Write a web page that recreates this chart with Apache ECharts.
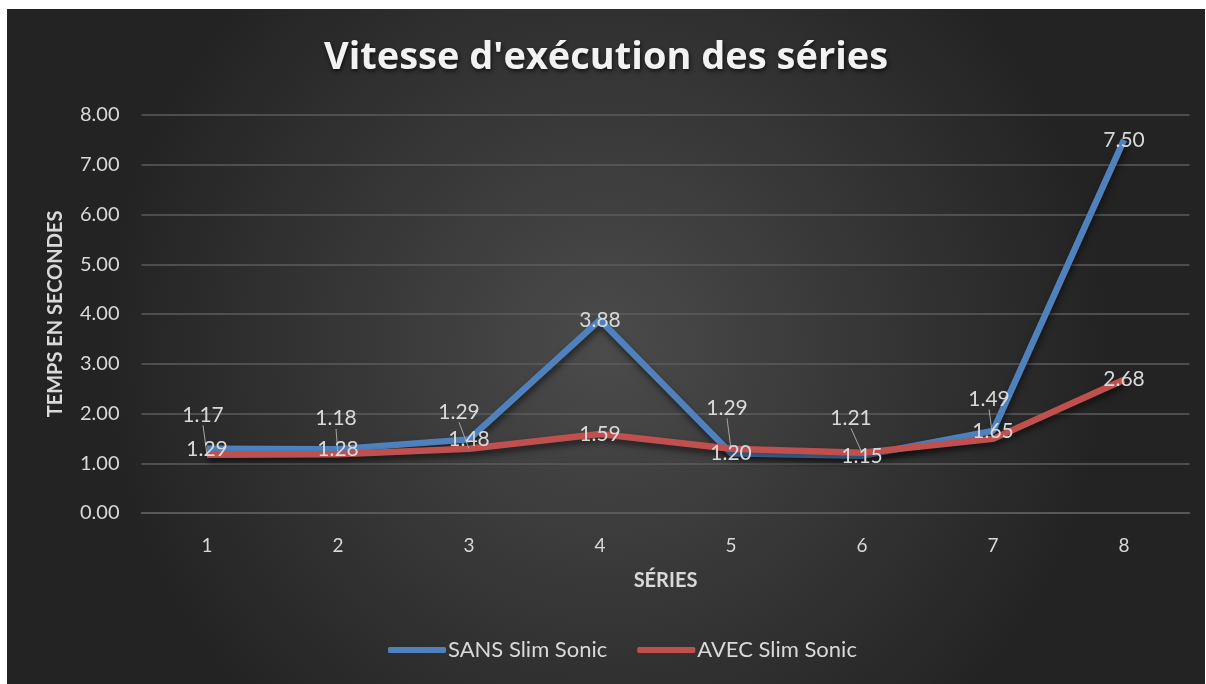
<!DOCTYPE html>
<html>
<head>
<meta charset="utf-8">
<script src="https://cdn.jsdelivr.net/npm/echarts@6/dist/echarts.min.js"></script>
<style>
  html, body { margin: 0; padding: 0; background: #fff; }
  #chart { position: absolute; left: 7px; top: 9px; width: 1198px; height: 675px; }
</style>
</head>
<body>
<div id="chart"></div>
<script>
// valeurs
const series_labels = ['1', '2', '3', '4', '5', '6', '7', '8'];
const sans_slim = [1.29, 1.28, 1.48, 3.88, 1.20, 1.15, 1.65, 7.50];
const avec_slim = [1.17, 1.18, 1.29, 1.59, 1.29, 1.21, 1.49, 2.68];
const yTicks = [0, 8, 1];

// décalage des étiquettes rouges (déplacées à la main dans l'original)
const avecShift = [[-4, -40], [-2, -36], [-10, -37], [0, 0], [-4, -41], [-11, -35], [-4, -40], [0, 0]];

const chart = echarts.init(document.getElementById('chart'));
const font = 'Lato, "Open Sans", sans-serif';
const txt = '#d9d9d9';
const BLUE = '#4f81bd', RED = '#c0504d';

const lineShadow = { shadowColor: 'rgba(0,0,0,0.55)', shadowBlur: 6, shadowOffsetY: 4, shadowOffsetX: 1 };
const lbl = { show: true, position: 'inside', color: txt, fontSize: 21, formatter: p => p.value.toFixed(2) };

// séries "lignes" puis séries "étiquettes" par-dessus
const lineSeries = (name, data, color, z) => ({
  name, type: 'line', data, color,
  symbol: 'none',
  lineStyle: Object.assign({ width: 6.5, color }, lineShadow),
  z
});
const labelSeries = (name, data, color, extra) => Object.assign({
  name, type: 'line', data, color,
  symbol: 'circle', symbolSize: 1,
  itemStyle: { color: 'rgba(0,0,0,0)', borderWidth: 0 },
  lineStyle: { width: 0, color: 'rgba(0,0,0,0)' },
  silent: true,
  label: lbl,
  z: 10
}, extra);

const option = {
  backgroundColor: {
    type: 'radial', x: 0.5, y: 0.5, r: 0.75,
    colorStops: [
      { offset: 0, color: '#4b4b4b' },
      { offset: 1, color: '#232323' }
    ]
  },
  textStyle: { fontFamily: font },
  title: {
    text: "Vitesse d'exécution des séries",
    left: 'center',
    top: 25,
    textStyle: {
      color: '#f2f2f2', fontSize: 38, fontWeight: 'bold', fontFamily: '"Open Sans", sans-serif',
      textShadowColor: 'rgba(0,0,0,0.7)', textShadowBlur: 4, textShadowOffsetX: 1, textShadowOffsetY: 2
    }
  },
  legend: {
    bottom: 18,
    left: 376,
    itemWidth: 58,
    itemHeight: 6,
    itemGap: 30,
    icon: 'roundRect',
    textStyle: { color: txt, fontSize: 22, padding: [0, 0, 0, -3] },
    data: ['SANS Slim Sonic', 'AVEC Slim Sonic']
  },
  grid: { left: 134.5, right: 15.5, top: 106, bottom: 171, containLabel: false },
  xAxis: {
    type: 'category',
    data: series_labels,
    boundaryGap: true,
    name: 'SÉRIES',
    nameLocation: 'middle',
    nameGap: 58,
    nameTextStyle: { color: txt, fontSize: 20, fontWeight: 'bold' },
    axisLine: { lineStyle: { color: '#5c5c5c', width: 1.5 } },
    axisTick: { show: false },
    axisLabel: { color: txt, fontSize: 19, margin: 23 }
  },
  yAxis: {
    type: 'value',
    min: yTicks[0], max: yTicks[1], interval: yTicks[2],
    name: 'TEMPS EN SECONDES',
    nameLocation: 'middle',
    nameGap: 76,
    nameRotate: 90,
    nameTextStyle: { color: txt, fontSize: 20, fontWeight: 'bold' },
    axisLine: { show: false },
    axisTick: { show: false },
    axisLabel: { color: txt, fontSize: 20, margin: 22, formatter: v => v.toFixed(2) },
    splitLine: { lineStyle: { color: '#5c5c5c', width: 1.5 } }
  },
  series: [
    lineSeries('SANS Slim Sonic', sans_slim, BLUE, 2),
    lineSeries('AVEC Slim Sonic', avec_slim, RED, 3),
    labelSeries('SANS Slim Sonic', sans_slim, BLUE),
    labelSeries('AVEC Slim Sonic',
      avec_slim.map((v, i) => ({ value: v, labelLine: { show: avecShift[i][1] !== 0 } })),
      RED,
      {
        labelLine: { show: true, lineStyle: { color: '#a6a6a6', width: 1 } },
        labelLayout: p => ({ dx: avecShift[p.dataIndex][0], dy: avecShift[p.dataIndex][1] })
      })
  ]
};

chart.setOption(option);
window.addEventListener('resize', () => chart.resize());
</script>
</body>
</html>
